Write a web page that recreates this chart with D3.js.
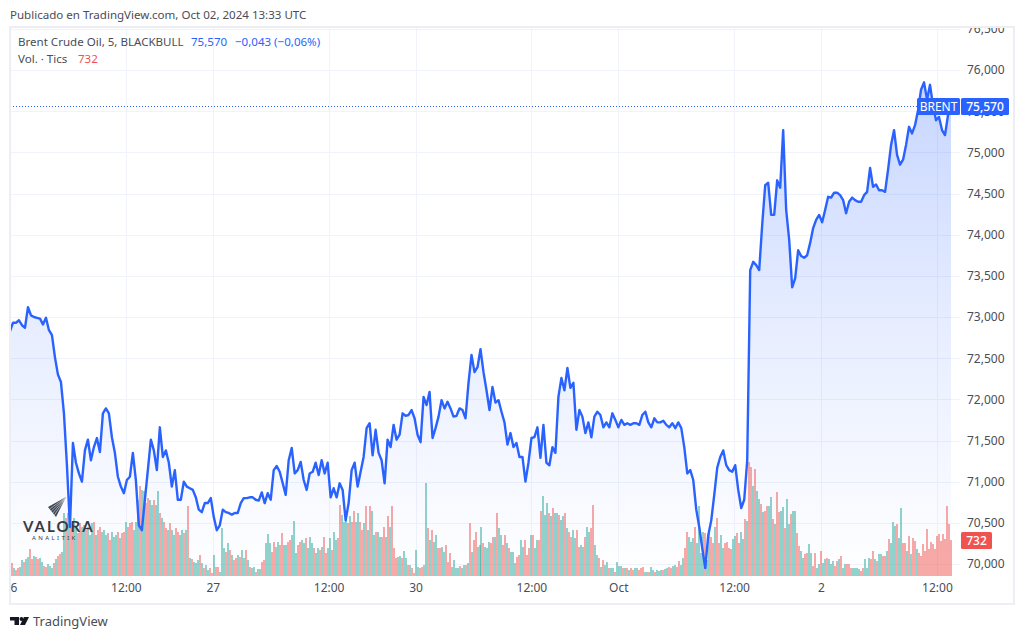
<!DOCTYPE html>
<html>
<head>
<meta charset="utf-8">
<script src="https://cdn.jsdelivr.net/npm/d3@7/dist/d3.min.js"></script>
<style>
  html, body { margin: 0; padding: 0; background: #fff; }
  svg { display: block; font-family: "Noto Sans", sans-serif; }
</style>
</head>
<body>
<svg id="chart" width="1024" height="639"></svg>
<script>
// close of the 5 minute series, sampled evenly along the visible bars
const prices = [
  72.83,72.93,72.93,72.96,72.90,72.87,73.12,73.02,73.00,72.99,
  72.98,72.91,72.99,72.84,72.78,72.51,72.30,72.21,71.83,71.20,
  70.45,71.47,71.23,71.10,71.00,71.38,71.51,71.26,71.42,71.53,
  71.36,71.83,71.89,71.83,71.54,71.35,71.06,70.94,70.86,71.02,
  71.06,71.35,71.02,70.47,70.41,70.78,71.14,71.51,71.38,71.14,
  71.66,71.30,71.38,71.23,70.94,71.14,70.78,70.78,71.00,70.94,
  70.92,70.90,70.81,70.66,70.63,70.74,70.74,70.80,70.57,70.41,
  70.47,70.66,70.63,70.62,70.60,70.62,70.62,70.74,70.80,70.80,
  70.81,70.81,70.78,70.77,70.87,70.74,70.86,70.78,71.14,71.19,
  71.12,70.98,70.84,71.26,71.41,71.10,71.14,71.24,71.02,70.90,
  71.10,71.12,71.23,71.08,71.26,71.10,71.23,70.81,70.92,70.81,
  70.98,70.90,70.53,70.74,71.14,71.23,70.94,71.12,71.30,71.65,
  71.71,71.32,71.63,71.35,71.26,70.98,71.51,71.42,71.69,71.51,
  71.57,71.83,71.80,71.81,71.87,71.77,71.57,71.48,72.03,71.93,
  72.09,71.53,71.65,71.79,71.99,71.89,71.97,71.89,71.79,71.80,
  71.89,71.87,71.77,72.20,72.54,72.33,72.39,72.61,72.33,72.11,
  71.87,72.15,71.96,71.99,71.85,71.72,71.45,71.59,71.42,71.47,
  71.30,71.30,71.00,71.23,71.53,71.54,71.66,71.29,71.69,71.23,
  71.20,71.42,71.35,72.03,72.26,72.11,72.38,72.14,72.20,71.63,
  71.87,71.79,71.59,71.72,71.54,71.79,71.85,71.81,71.66,71.72,
  71.66,71.83,71.75,71.66,71.75,71.69,71.71,71.69,71.71,71.71,
  71.69,71.81,71.85,71.72,71.66,71.77,71.72,71.72,71.74,71.69,
  71.66,71.71,71.65,71.72,71.65,71.42,71.10,71.14,71.02,70.66,
  70.45,70.19,69.95,70.35,70.53,70.84,71.17,71.30,71.38,71.20,
  71.14,71.12,71.20,70.90,70.68,70.78,71.26,73.57,73.67,73.63,
  73.57,74.12,74.60,74.63,74.24,74.24,74.66,74.57,75.27,74.30,
  73.94,73.36,73.47,73.81,73.74,73.72,73.75,73.90,74.08,74.18,
  74.24,74.15,74.30,74.46,74.45,74.51,74.51,74.48,74.42,74.26,
  74.40,74.45,74.42,74.40,74.40,74.48,74.52,74.81,74.58,74.61,
  74.54,74.54,74.52,74.79,75.09,75.27,74.97,74.85,74.91,75.09,
  75.31,75.23,75.33,75.51,75.76,75.85,75.64,75.82,75.57,75.39,
  75.43,75.27,75.21,75.45,75.57
];

// tick volume, same idea, sampled more finely
const volumes = [
  326,258,156,122,156,177,326,292,340,381,544,340,408,381,354,360,292,204,177,245,
  204,156,258,340,408,449,496,1278,1176,1278,1074,1074,1176,1006,870,1074,1006,1040,938,1006,
  836,1074,1108,836,938,1006,904,938,836,870,734,904,802,836,904,768,870,904,1108,1006,
  1074,1108,938,1108,1550,1822,1754,1720,1482,1584,1550,1448,1550,1448,1720,1278,1176,1108,972,938,
  1074,938,836,972,904,836,938,870,938,1414,360,340,292,258,326,428,258,156,224,122,
  156,54,428,177,190,88,972,564,496,666,530,428,326,360,428,394,530,360,530,326,
  177,156,177,88,136,136,292,326,666,857,666,496,700,598,700,632,884,632,632,700,
  734,836,1122,462,632,700,734,666,768,564,802,666,564,462,564,530,598,802,462,564,
  768,530,904,734,768,1448,1244,1108,1176,1074,1210,1108,1312,1108,1278,1108,938,1074,1414,938,
  1414,1312,836,904,904,802,802,1006,802,1210,1006,1428,564,360,394,408,360,517,360,224,
  224,156,54,530,190,156,177,224,1890,972,734,938,700,836,564,564,598,496,632,292,
  462,190,326,156,156,204,156,224,224,258,1074,496,734,904,598,632,1006,666,598,564,
  700,666,802,802,1278,972,836,632,836,666,564,496,496,258,394,428,734,598,734,428,
  564,836,836,564,734,734,1312,1618,1244,1482,1278,1210,1380,1278,1278,1244,1142,1210,1278,972,
  904,802,938,768,938,598,632,598,802,1006,904,972,1448,632,428,360,190,326,224,292,
  156,156,156,88,292,204,204,156,156,156,122,156,122,156,156,122,156,177,88,88,
  88,177,122,88,122,109,122,122,136,156,177,156,204,224,190,306,224,360,564,904,
  802,700,768,1006,666,1414,462,904,870,326,938,802,666,1006,1176,666,836,564,666,700,
  578,544,748,816,884,680,898,748,1156,1122,2312,2210,1836,2176,1734,1564,1462,1292,1326,1428,
  1428,1598,1156,1054,1714,1292,1326,1394,986,1564,1054,1258,1326,1326,884,612,510,374,442,476,
  646,476,204,476,170,238,510,272,340,374,340,238,306,204,306,340,408,170,238,238,
  238,170,170,170,170,136,102,170,340,170,374,340,510,340,306,442,442,408,408,510,
  748,680,1088,1020,1054,782,1374,680,680,510,816,442,782,714,544,476,408,646,510,952,
  544,694,646,544,816,850,714,850,748,1428,1054,732
];

// r = close below open, g = close above open
const volumeDirs = [
  "rrgrrggrgg","rrgrrggrrg","ggrgrrggrg","rrggrrggrg","ggrgrrgggr","rgggrgrrgr",
  "rrgggrggrr","ggrggrgrrg","rggrrggrgr","grgggrgrgg","rrgrrgggrg","rgrrgrggrg",
  "rggrggrrgg","grrggrrggr","rgggrrggrg","ggrggrgrrg","grggrrgggr","grrggrrgrg",
  "rggrggrrgr","grrrggrggr","grrggrrggr","grggrrggrr","rggggrggrg","rgrrgggrgg",
  "grrgrggrrg","rgggrrggrr","rgrggrrggg","rgrggrggrg","rrggrrggrg","grrggrgrgg",
  "rggrgggrgr","grrggrrrgg","rggrgggrgg","rrggrrggrr","gggrggggrg","grrgrrggrr",
  "rrggrrggrg","rrgrggrgrr","ggrgrrggrg","grggrrggrr","ggrrggrggr","gggrrgrggr",
  "rrggggrrgg","grrgrggrrg","rgggrggrrg","rgrrgr","",""
].join("");

const priceTicks = [70, 70.5, 71, 71.5, 72, 72.5, 73, 73.5, 74, 74.5, 75, 75.5, 76, 76.5];
const lastPrice = 75.57;
const lastVolume = 732;

// position on the bar axis (5 min bars), sessions skip the daily close
const barCount = 1169.5;
const timeTicks = [0, 144, 252, 396, 504, 648, 756, 900, 1008, 1152];
const timeLabels = ["26", "12:00", "27", "12:00", "30", "12:00", "Oct", "12:00", "2", "12:00"];

const config = { left: 10, right: 951, pane: 960, top: 28, bottom: 576, axisH: 27, width: 1024 };
const colors = {
  blue: "#2962ff", red: "#ef5350", green: "#26a69a",
  grid: "#f0f3fa", frame: "#eceef4", text: "#4a4d57", title: "#4a4d57"
};

const locale = d3.formatLocale({ decimal: ",", thousands: ".", grouping: [3], currency: ["", ""] });
const fmtPrice = locale.format(".3f");

const svg = d3.select("#chart");
const defs = svg.append("defs");

const x = d3.scaleLinear().domain([0, barCount]).range([config.left, config.right]);
const y = d3.scaleLinear().domain([70, 76]).range([564, 70]);
// 732 tics is 36px tall on the pane
const yVol = d3.scaleLinear().domain([0, 732]).range([config.bottom, config.bottom - 36]);

const priceBar = function(i) { return i * barCount / (prices.length - 1); };
const volumeBar = function(i) { return i * barCount / (volumes.length - 1); };

const grad = defs.append("linearGradient")
  .attr("id", "areaFill")
  .attr("gradientUnits", "userSpaceOnUse")
  .attr("x1", 0).attr("x2", 0)
  .attr("y1", y(d3.max(prices))).attr("y2", config.bottom);
grad.append("stop").attr("offset", 0).attr("stop-color", colors.blue).attr("stop-opacity", 0.26);
grad.append("stop").attr("offset", 0.5).attr("stop-color", colors.blue).attr("stop-opacity", 0.11);
grad.append("stop").attr("offset", 1).attr("stop-color", colors.blue).attr("stop-opacity", 0);

defs.append("clipPath").attr("id", "paneClip").append("rect")
  .attr("x", config.left).attr("y", config.top)
  .attr("width", config.pane - config.left).attr("height", config.bottom - config.top);
defs.append("clipPath").attr("id", "frameClip").append("rect")
  .attr("x", config.left + 1).attr("y", config.top)
  .attr("width", 1003).attr("height", 575);

// grid
const grid = svg.append("g").attr("clip-path", "url(#paneClip)");
grid.selectAll("line.h").data(priceTicks).enter().append("line")
  .attr("class", "h")
  .attr("x1", config.left).attr("x2", config.pane)
  .attr("y1", function(d) { return Math.round(y(d)) + 0.5; })
  .attr("y2", function(d) { return Math.round(y(d)) + 0.5; })
  .attr("stroke", colors.grid);
grid.selectAll("line.v").data(timeTicks.slice(1)).enter().append("line")
  .attr("class", "v")
  .attr("x1", function(d) { return Math.round(x(d)) + 0.5; })
  .attr("x2", function(d) { return Math.round(x(d)) + 0.5; })
  .attr("y1", config.top).attr("y2", config.bottom)
  .attr("stroke", colors.grid);

const pane = svg.append("g").attr("clip-path", "url(#paneClip)");

// area under the line
const area = d3.area()
  .x(function(d, i) { return x(priceBar(i)); })
  .y0(config.bottom)
  .y1(function(d) { return y(d); });
pane.append("path").datum(prices).attr("d", area).attr("fill", "url(#areaFill)");

// volume
pane.selectAll("rect.vol").data(volumes).enter().append("rect")
  .attr("class", "vol")
  .attr("x", function(d, i) { return Math.round(x(volumeBar(i))) - 1; })
  .attr("width", 2)
  .attr("y", function(d) { return yVol(d); })
  .attr("height", function(d) { return config.bottom - yVol(d); })
  .attr("fill", function(d, i) { return volumeDirs.charAt(i) == "g" ? colors.green : colors.red; })
  .attr("fill-opacity", 0.5)
  .attr("shape-rendering", "crispEdges");

// last price line
const lastY = Math.ceil(y(lastPrice)) + 0.5;
pane.append("line")
  .attr("x1", config.left).attr("x2", 917)
  .attr("y1", lastY).attr("y2", lastY)
  .attr("stroke", colors.blue).attr("stroke-dasharray", "1 2")
  .attr("shape-rendering", "crispEdges");

// watermark
const logo = svg.append("g");
const fan = [[48, 507], [66, 497], [56, 517]];
logo.append("path")
  .attr("d", d3.line()(fan) + "Z")
  .attr("fill", "#3f4754");
logo.selectAll("line").data([0.2, 0.4, 0.6, 0.8]).enter().append("line")
  .attr("x1", function(d) { return 48 + 8 * d; })
  .attr("y1", function(d) { return 507 + 10 * d; })
  .attr("x2", function(d) { return 66 - 10 * d * 0.1; })
  .attr("y2", function(d) { return 497 + 2 * d; })
  .attr("stroke", "#dfe3ea").attr("stroke-width", 0.6);
logo.append("text").text("VALORA")
  .attr("x", 23).attr("y", 532)
  .attr("font-size", 15).attr("font-weight", 700).attr("letter-spacing", 2)
  .attr("fill", "#343a46").attr("font-family", "Lato, sans-serif");
logo.append("text").text("ANALITIK")
  .attr("x", 32).attr("y", 540)
  .attr("font-size", 6).attr("letter-spacing", 2.4)
  .attr("fill", "#343a46");

// price line
const line = d3.line()
  .x(function(d, i) { return x(priceBar(i)); })
  .y(function(d) { return y(d); });
const linePane = svg.append("g").attr("clip-path", "url(#paneClip)");
linePane.append("path").datum(prices)
  .attr("d", line)
  .attr("fill", "none")
  .attr("stroke", colors.blue).attr("stroke-width", 2.4).attr("stroke-linejoin", "round");

// axes
const axisClip = svg.append("g").attr("clip-path", "url(#frameClip)");
const yAxis = axisClip.append("g")
  .attr("transform", "translate(967,0)")
  .call(d3.axisRight(y).tickValues(priceTicks).tickSize(0).tickPadding(0).tickFormat(fmtPrice));
yAxis.select(".domain").remove();
yAxis.selectAll("text")
  .attr("font-size", 12).attr("font-family", "Noto Sans, sans-serif").attr("fill", colors.text);

const xAxis = axisClip.append("g")
  .attr("transform", "translate(0," + config.bottom + ")")
  .call(d3.axisBottom(x).tickValues(timeTicks).tickSize(0).tickPadding(7)
    .tickFormat(function(d, i) { return timeLabels[i]; }));
xAxis.select(".domain").remove();
xAxis.selectAll("text")
  .attr("font-size", 12).attr("font-family", "Noto Sans, sans-serif").attr("fill", colors.text);

// frame
svg.append("rect")
  .attr("x", 10).attr("y", 27).attr("width", 1004).attr("height", 577)
  .attr("fill", "none").attr("stroke", colors.frame).attr("stroke-width", 2);

// price and volume tags
function tag(x0, w, cy, label, fill, weight) {
  svg.append("rect")
    .attr("x", x0).attr("y", cy - 8.5).attr("width", w).attr("height", 17)
    .attr("rx", 1.5).attr("fill", fill);
  svg.append("text").text(label)
    .attr("x", x0 + w / 2).attr("y", cy + 4.2)
    .attr("text-anchor", "middle")
    .attr("font-size", 12).attr("font-weight", weight)
    .attr("fill", "#fff");
}
tag(917, 43, lastY, "BRENT", colors.blue, 400);
tag(961, 48, lastY, fmtPrice(lastPrice), colors.blue, 500);
tag(961, 31, yVol(lastVolume) + 0.5, String(lastVolume), colors.red, 500);

// header and legend
svg.append("text").text("Publicado en TradingView.com, Oct 02, 2024 13:33 UTC")
  .attr("x", 10).attr("y", 19).attr("font-size", 11.55).attr("fill", colors.title);

const legend1 = svg.append("text").attr("x", 18).attr("y", 46).attr("font-size", 11.55);
legend1.append("tspan").text("Brent Crude Oil, 5, BLACKBULL").attr("fill", colors.title);
legend1.append("tspan").text(fmtPrice(lastPrice)).attr("x", 191).attr("fill", colors.blue);
legend1.append("tspan").text("\u22120,043 (\u22120,06%)").attr("x", 235).attr("fill", colors.blue);

const legend2 = svg.append("text").attr("x", 18).attr("y", 63).attr("font-size", 11.55);
legend2.append("tspan").text("Vol. \u00b7 Tics").attr("fill", colors.title);
legend2.append("tspan").text(String(lastVolume)).attr("x", 78).attr("fill", colors.red);

// footer mark
const tv = svg.append("g").attr("fill", "#131722");
tv.append("path").attr("d", d3.line()([[10, 617], [19, 617], [19, 625], [14.5, 625], [14.5, 620.5], [10, 620.5]]) + "Z");
tv.append("circle").attr("cx", 21.5).attr("cy", 619).attr("r", 2);
tv.append("path").attr("d", d3.line()([[24, 617], [29, 617], [25, 625], [20, 625]]) + "Z");
svg.append("text").text("TradingView")
  .attr("x", 33).attr("y", 626).attr("font-size", 13).attr("fill", "#4a4d57");
</script>
</body>
</html>
